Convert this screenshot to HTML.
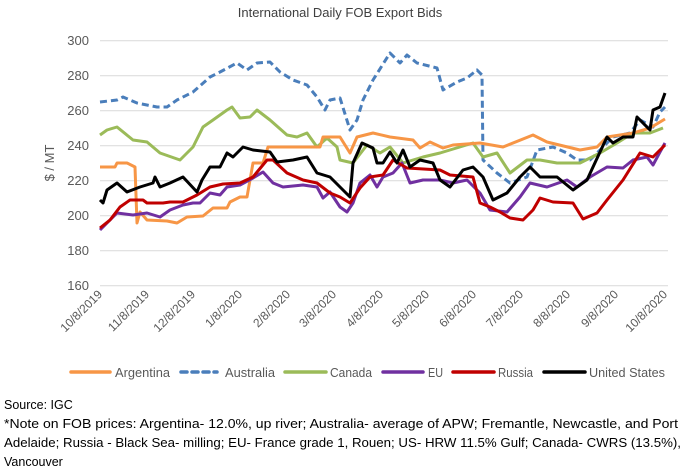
<!DOCTYPE html>
<html><head><meta charset="utf-8"><style>
html,body{margin:0;padding:0;background:#fff;}
svg{display:block;font-family:"Liberation Sans",sans-serif;}
</style></head><body>
<svg width="688" height="472" viewBox="0 0 688 472" xmlns="http://www.w3.org/2000/svg">
<rect width="688" height="472" fill="#fff"/>
<text x="340" y="17" text-anchor="middle" font-size="13" fill="#404040">International Daily FOB Export Bids</text>
<g stroke="#d9d9d9" stroke-width="1">
<line x1="100" x2="668" y1="40.7" y2="40.7"/><line x1="100" x2="668" y1="75.7" y2="75.7"/>
<line x1="100" x2="668" y1="110.7" y2="110.7"/><line x1="100" x2="668" y1="145.7" y2="145.7"/>
<line x1="100" x2="668" y1="180.7" y2="180.7"/><line x1="100" x2="668" y1="215.7" y2="215.7"/>
<line x1="100" x2="668" y1="250.7" y2="250.7"/><line x1="100" x2="668" y1="285.7" y2="285.7"/>
</g>
<g font-size="13" fill="#595959" text-anchor="end">
<text x="89" y="45">300</text><text x="89" y="80">280</text><text x="89" y="115">260</text>
<text x="89" y="150">240</text><text x="89" y="185">220</text><text x="89" y="220">200</text>
<text x="89" y="255">180</text><text x="89" y="290">160</text>
</g>
<text transform="translate(54,163) rotate(-90)" text-anchor="middle" font-size="13" fill="#595959">$ / MT</text>
<g font-size="12" fill="#595959" text-anchor="end">
<text transform="translate(103,295) rotate(-45)">10/8/2019</text>
<text transform="translate(150,295) rotate(-45)">11/8/2019</text>
<text transform="translate(196,295) rotate(-45)">12/8/2019</text>
<text transform="translate(243,295) rotate(-45)">1/8/2020</text>
<text transform="translate(291,295) rotate(-45)">2/8/2020</text>
<text transform="translate(337,295) rotate(-45)">3/8/2020</text>
<text transform="translate(384,295) rotate(-45)">4/8/2020</text>
<text transform="translate(430,295) rotate(-45)">5/8/2020</text>
<text transform="translate(477,295) rotate(-45)">6/8/2020</text>
<text transform="translate(524,295) rotate(-45)">7/8/2020</text>
<text transform="translate(571,295) rotate(-45)">8/8/2020</text>
<text transform="translate(619,295) rotate(-45)">9/8/2020</text>
<text transform="translate(668,295) rotate(-45)">10/8/2020</text>
</g>
<g fill="none" stroke-width="3" stroke-linejoin="round">
<polyline stroke="#4a7ebb" stroke-dasharray="7,4" points="100,102 117,100 123,97 137,103 157,107 167,107 177,100 193,92 210,77 220,72 237,63 247,70 257,63 270,62 280,72 293,80 307,85 317,97 325,110 330,100 340,98 350,130 357,120 363,100 373,80 390,53 400,63 407,55 417,63 437,68 443,90 457,82 467,78 477,70 482,75 483,160 497,173 510,183 527,177 537,150 553,147 567,153 577,160 590,160 600,150 613,137 630,133 640,120 653,127 660,112 665,107"/>
<polyline stroke="#9bbb59" points="100,135 107,130 117,127 133,140 147,142 160,153 180,160 193,147 203,127 213,120 227,110 232,107 240,118 250,117 257,110 270,120 287,135 297,137 307,133 317,147 327,138 337,147 340,160 353,163 367,145 380,153 390,147 403,163 423,157 440,153 473,143 483,157 497,153 510,173 527,160 540,160 557,163 580,163 600,153 617,143 633,133 650,133 663,128"/>
<polyline stroke="#f79646" points="100,167 115,167 117,163 127,163 135,167 137,223 140,212 147,220 167,221 177,223 187,217 203,216 213,208 227,208 230,202 240,197 247,197 253,163 263,163 268,147 320,147 323,137 340,137 350,153 357,137 373,133 390,137 413,140 420,148 430,142 443,148 453,145 480,143 503,147 533,135 547,142 580,150 597,147 607,137 633,133 650,128 665,119"/>
<polyline stroke="#7030a0" points="100,230 110,220 117,213 133,215 147,213 160,217 170,210 183,205 193,203 200,203 210,193 220,195 227,187 240,185 253,178 263,172 273,183 283,187 303,185 317,187 323,198 330,192 340,207 347,212 353,203 360,183 370,175 377,187 383,177 393,173 402,163 410,183 423,180 440,180 453,183 467,180 480,193 490,210 507,212 520,197 530,183 547,187 567,180 577,187 590,177 607,167 623,168 633,160 647,157 653,165 660,152 665,143"/>
<polyline stroke="#c00000" points="100,228 110,220 120,207 130,200 143,200 147,203 163,203 170,202 183,202 197,195 210,187 223,184 240,183 253,177 267,160 273,160 287,173 303,180 317,183 330,193 340,197 350,203 360,188 370,177 383,175 393,160 407,168 440,170 450,175 473,177 480,203 490,207 500,212 510,218 523,220 533,210 540,198 553,202 573,203 583,219 597,213 607,200 623,180 640,153 653,157 665,145"/>
<polyline stroke="#000" points="100,200 103,203 107,190 117,183 127,192 140,187 153,183 155,177 160,187 170,183 183,177 197,192 202,180 210,167 220,167 227,153 233,157 243,147 253,150 270,152 277,162 293,160 307,157 317,173 330,177 340,187 350,197 353,163 362,143 373,148 377,163 383,163 390,152 397,163 403,150 410,167 420,160 433,163 440,180 450,187 463,170 473,167 483,177 493,200 507,193 520,177 530,167 540,177 557,177 573,190 587,180 593,167 607,137 613,143 623,137 633,137 637,117 650,130 653,110 660,107 665,93"/>
</g>
<g stroke-width="3.5" fill="none" stroke-linecap="round">
<line x1="71" x2="110" y1="372" y2="372" stroke="#f79646"/>
<line x1="181" x2="217" y1="372" y2="372" stroke="#4a7ebb" stroke-dasharray="6,5"/>
<line x1="285" x2="326" y1="372" y2="372" stroke="#9bbb59"/>
<line x1="383" x2="423" y1="372" y2="372" stroke="#7030a0"/>
<line x1="453" x2="494" y1="372" y2="372" stroke="#c00000"/>
<line x1="544" x2="585" y1="372" y2="372" stroke="#000"/>
</g>
<g font-size="13" fill="#595959">
<text x="115" y="377" textLength="55" lengthAdjust="spacingAndGlyphs">Argentina</text>
<text x="225" y="377" textLength="50" lengthAdjust="spacingAndGlyphs">Australia</text>
<text x="330" y="377" textLength="42" lengthAdjust="spacingAndGlyphs">Canada</text>
<text x="428" y="377" textLength="15" lengthAdjust="spacingAndGlyphs">EU</text>
<text x="498" y="377" textLength="35" lengthAdjust="spacingAndGlyphs">Russia</text>
<text x="589" y="377" textLength="76" lengthAdjust="spacingAndGlyphs">United States</text>
</g>
<g font-size="12.5" fill="#000">
<text x="4" y="409">Source: IGC</text>
<text x="4" y="428" textLength="674" lengthAdjust="spacingAndGlyphs">*Note on FOB prices: Argentina- 12.0%, up river; Australia- average of APW; Fremantle, Newcastle, and Port</text>
<text x="4" y="447" textLength="677" lengthAdjust="spacingAndGlyphs">Adelaide; Russia - Black Sea- milling; EU- France grade 1, Rouen; US- HRW 11.5% Gulf; Canada- CWRS (13.5%),</text>
<text x="4" y="466">Vancouver</text>
</g>
</svg>
</body></html>
